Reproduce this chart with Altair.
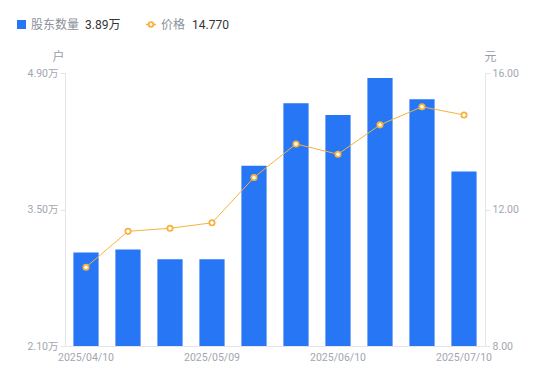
import altair as alt
import pandas as pd

dates = ["2025/04/10", "2025/04/18", "2025/04/30", "2025/05/09", "2025/05/20",
         "2025/05/30", "2025/06/10", "2025/06/20", "2025/06/30", "2025/07/10"]
holders = [3.06, 3.09, 2.99, 2.99, 3.95, 4.59, 4.47, 4.85, 4.63, 3.89]
prices = [10.31, 11.36, 11.45, 11.61, 12.94, 13.92, 13.62, 14.48, 15.01, 14.77]
shown_dates = ["2025/04/10", "2025/05/09", "2025/06/10", "2025/07/10"]
left_ticks = [2.1, 3.5, 4.9]
right_ticks = [8, 12, 16]

df = pd.DataFrame({"date": dates, "holders": holders, "price": prices})

FONT = "Roboto, Noto Sans CJK SC, sans-serif"
BLUE = "#2776f5"
ORANGE = "#f7b23b"
AXIS_GRAY = "#e3e5ea"
LABEL_GRAY = "#a3a6b0"

x = alt.X("date:N", sort=dates, title=None,
          scale=alt.Scale(paddingInner=0.4, paddingOuter=0.2),
          axis=alt.Axis(values=shown_dates, labelAngle=0, ticks=False,
                        domainColor=AXIS_GRAY, labelColor=LABEL_GRAY,
                        labelFontSize=10.5, labelPadding=6, labelFont=FONT))

# legend and axis unit titles (pixel positions relative to plot origin)
def txt(s, xv, yv, color, align="left", size=12):
    return alt.Chart(pd.DataFrame({"t": [s]})).mark_text(
        align=align, baseline="middle", fontSize=size, font=FONT, color=color
    ).encode(text="t:N", x=alt.value(xv), y=alt.value(yv))

leg_sq = alt.Chart(pd.DataFrame({"a": [0]})).mark_square(size=81, color=BLUE, opacity=1).encode(
    x=alt.value(-43.5), y=alt.value(-48.5))
leg_line = alt.Chart(pd.DataFrame({"a": [0]})).mark_rule(color=ORANGE, strokeWidth=1.5).encode(
    x=alt.value(81), x2=alt.value(91), y=alt.value(-48.5))
leg_pt = alt.Chart(pd.DataFrame({"a": [0]})).mark_point(
    shape="circle", filled=True, fill="white", stroke=ORANGE, strokeWidth=1.8, size=22, opacity=1
).encode(x=alt.value(86), y=alt.value(-48.5))

bars = alt.Chart(df).mark_bar(color=BLUE).encode(
    x=x,
    y=alt.Y("holders:Q", title=None,
            scale=alt.Scale(domain=[2.1, 4.9], zero=False, nice=False),
            axis=alt.Axis(orient="left", values=left_ticks, grid=False,
                          labelExpr="format(datum.value, '.2f') + '万'",
                          domainColor=AXIS_GRAY, tickColor=AXIS_GRAY, tickSize=5,
                          labelColor=LABEL_GRAY, labelFontSize=10.5, labelPadding=2,
                          labelFont=FONT)),
    y2=alt.datum(2.1),
)

left_layer = alt.layer(
    bars,
    leg_sq,
    txt("股东数量", -34, -48.5, "#8c909a"),
    txt("3.89万", 20, -48.5, "#333333"),
    leg_line, leg_pt,
    txt("价格", 96, -48.5, "#8c909a"),
    txt("14.770", 127, -48.5, "#333333"),
    txt("户", -6.5, -16, "#9a9da6", align="center", size=12),
    txt("元", 425.5, -16, "#9a9da6", align="center", size=12),
)

price_y = alt.Y("price:Q", title=None,
                scale=alt.Scale(domain=[8, 16], zero=False, nice=False),
                axis=alt.Axis(orient="right", values=right_ticks, grid=False, format=".2f",
                              domainColor=AXIS_GRAY, tickColor=AXIS_GRAY, tickSize=5,
                              labelColor=LABEL_GRAY, labelFontSize=10.5, labelPadding=2,
                              labelFont=FONT))

line = alt.Chart(df).mark_line(color=ORANGE, strokeWidth=1).encode(x=x, y=price_y)
pts = alt.Chart(df).mark_point(shape="circle", filled=True, fill="white", stroke=ORANGE,
                               strokeWidth=1.8, size=28, opacity=1).encode(x=x, y=price_y)

price_layer = alt.layer(line, pts)

chart = alt.layer(left_layer, price_layer).resolve_scale(y="independent").properties(
    width=420, height=273,
    autosize=alt.AutoSizeParams(type="none"),
    padding={"left": 57, "top": 65, "right": 57, "bottom": 27},
    background="white",
).configure_view(stroke=None)

chart.save("out.html", embed_options={"renderer": "svg", "actions": False})
